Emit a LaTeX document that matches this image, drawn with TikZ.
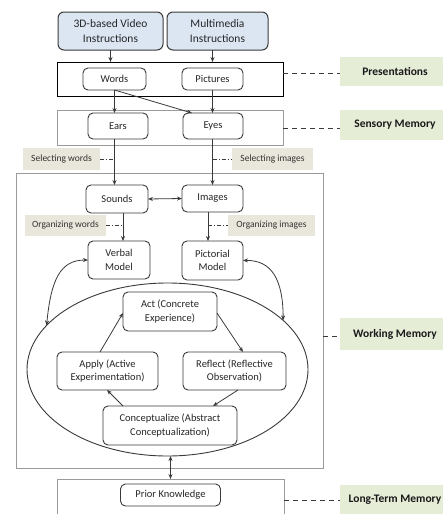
\documentclass[tikz,border=0pt]{standalone}
\usepackage{fontspec}
\setmainfont{Carlito}
\usetikzlibrary{arrows.meta,shapes.geometric,calc}
\definecolor{bluefill}{HTML}{DCE6F2}
\definecolor{tanfill}{HTML}{E9E7DB}
\definecolor{greenfill}{HTML}{E6EDD7}
\definecolor{dk}{HTML}{3A3A3A}
\definecolor{grayline}{HTML}{9A9A9A}
\begin{document}
\begin{tikzpicture}[x=1pt,y=-1pt,
 every node/.style={inner sep=0pt, outer sep=0pt},
 topbox/.style={draw=dk, line width=1pt, fill=bluefill, rounded corners=6pt, align=center, font=\fontsize{11.5}{15.5}\selectfont, text=black!85},
 inbox/.style={draw=dk, line width=0.9pt, rounded corners=5pt, align=center, font=\fontsize{10.5}{13.5}\selectfont, text=black!85, fill=white},
 layer/.style={draw=grayline, line width=0.8pt},
 tag/.style={fill=tanfill, font=\fontsize{9.5}{11}\selectfont, text=black!80},
 side/.style={fill=greenfill, font=\bfseries\fontsize{11.5}{13}\selectfont, text=black!90, minimum width=110pt},
 arr/.style={-{Stealth[length=5pt,width=4pt]}, line width=0.8pt, draw=dk},
 darr/.style={{Stealth[length=5pt,width=4pt]}-{Stealth[length=5pt,width=4pt]}, line width=0.8pt, draw=dk},
 dd/.style={draw=dk, line width=0.6pt, dash pattern=on 4pt off 2pt on 1pt off 2pt},
 ds/.style={draw=dk, line width=0.7pt, dash pattern=on 5pt off 4pt},
]
\clip (0,0) rectangle (443,514);
\fill[white] (0,0) rectangle (443,514);

% layers
\node[draw=black, line width=1pt, minimum width=226pt, minimum height=34pt] (pres) at (170,79) {};
\node[layer, minimum width=226pt, minimum height=35pt] (sens) at (170,127.5) {};
\node[layer, minimum width=307pt, minimum height=295pt] (wm) at (169.5,320.5) {};
\node[layer, minimum width=227pt, minimum height=42pt] (ltm) at (170.5,500) {};

% ellipse
\node[draw=dk, line width=0.9pt, ellipse, minimum width=281pt, minimum height=173pt] (cyc) at (167.5,369.5) {};

% top boxes
\node[topbox, minimum width=105pt, minimum height=38pt] (vid) at (110.5,31) {3D-based Video\\Instructions};
\node[topbox, minimum width=101pt, minimum height=38pt] (mm) at (217.5,31) {Multimedia\\Instructions};

% inner nodes
\node[inbox, minimum width=63pt, minimum height=22pt] (words) at (114.5,79) {Words};
\node[inbox, minimum width=61pt, minimum height=22pt] (pics) at (212.5,79) {Pictures};
\node[inbox, minimum width=60pt, minimum height=26pt] (ears) at (118,126) {Ears};
\node[inbox, minimum width=60pt, minimum height=26pt] (eyes) at (213,126) {Eyes};
\node[inbox, minimum width=62pt, minimum height=28pt] (sounds) at (117,199) {Sounds};
\node[inbox, minimum width=61pt, minimum height=27pt] (images) at (212.5,198.5) {Images};
\node[inbox, minimum width=62pt, minimum height=38pt] (verbal) at (119,260) {Verbal\\Model};
\node[inbox, minimum width=61pt, minimum height=39pt] (pictorial) at (212.5,260.5) {Pictorial\\Model};
\node[inbox, minimum width=94pt, minimum height=39pt] (act) at (170,311.5) {Act (Concrete\\Experience)};
\node[inbox, minimum width=101pt, minimum height=38pt] (apply) at (107.5,371) {Apply (Active\\Experimentation)};
\node[inbox, minimum width=103pt, minimum height=38pt] (reflect) at (234.5,371) {Reflect (Reflective\\Observation)};
\node[inbox, minimum width=134pt, minimum height=39pt] (concept) at (170,425.5) {Conceptualize (Abstract\\Conceptualization)};
\node[inbox, minimum width=100pt, minimum height=22pt] (prior) at (170.5,495) {Prior Knowledge};

% tags
\node[tag, minimum width=77pt, minimum height=22pt] (selw) at (61.5,159) {Selecting words};
\node[tag, minimum width=81pt, minimum height=22pt] (seli) at (272.5,159) {Selecting images};
\node[tag, minimum width=81pt, minimum height=21pt] (orgw) at (65.5,225.5) {Organizing words};
\node[tag, minimum width=87pt, minimum height=21pt] (orgi) at (271.5,225.5) {Organizing images};

% side labels
\node[side, minimum height=29pt] (sp) at (395,71) {Presentations};
\node[side, minimum height=30pt] (ss) at (395,125) {Sensory Memory};
\node[side, minimum height=32pt] (sw) at (395,334) {Working Memory};
\node[side, minimum height=29pt] (sl) at (395,499.5) {Long-Term Memory};

% helper coordinates
\coordinate (c1) at ($(sounds.south)+(6,0)$);
\coordinate (c2) at ($(images.south)+(-4.5,0)$);

% arrows
\draw[arr] (vid.south) -- (vid.south |- pres.north);
\draw[arr] (mm.south -| pics.south) -- (pres.north -| pics.south);
\draw[arr] (words.south) -- (words.south |- ears.north);
\draw[arr] (words.south) -- ($(eyes.north west)+(9,0)$);
\draw[arr] (pics.south) -- (pics.south |- eyes.north);
\draw[arr] (ears.south -| words.south) -- (sounds.north -| words.south);
\draw[arr] (eyes.south -| pics.south) -- (images.north -| pics.south);
\draw[darr] (sounds.east) -- (images.west);
\draw[arr] (c1) -- (c1 |- verbal.north);
\draw[arr] (c2) -- (c2 |- pictorial.north);

\draw[dd] (selw.east) -- (selw.east -| words.south);
\draw[dd] (seli.west -| pics.south) -- (seli.west);
\draw[dd] (orgw.east) -- (orgw.east -| c1);
\draw[dd] (orgi.west -| c2) -- (orgi.west);

\draw[darr] (cyc.160) .. controls (51,280) and (60,260) .. (verbal.west);
\draw[darr] (pictorial.east) .. controls (272,260) and (283,280) .. (cyc.23);

\draw[arr] ($(apply.north)+(-7.5,0)$) -- ($(act.west)+(0,1.5)$);
\draw[arr] ($(act.east)+(0,1.5)$) -- ($(reflect.north)+(8.5,0)$);
\draw[arr] ($(reflect.south)+(3.5,0)$) -- ($(concept.north)+(43,0)$);
\draw[arr] ($(concept.north)+(-47,0)$) -- ($(apply.south)+(-0.5,0)$);

\coordinate (c3) at (ltm.north);
\draw[darr] (c3 |- cyc.south) -- (ltm.north);

% dashed connectors to side labels
\draw[ds] (pres.east |- 0,73) -- (sp.west |- 0,73);
\draw[ds] (sens.east |- 0,128) -- (ss.west |- 0,128);
\draw[ds] (wm.east |- 0,336) -- (sw.west |- 0,336);
\draw[ds] (ltm.east |- 0,500) -- (sl.west |- 0,500);
\end{tikzpicture}
\end{document}
